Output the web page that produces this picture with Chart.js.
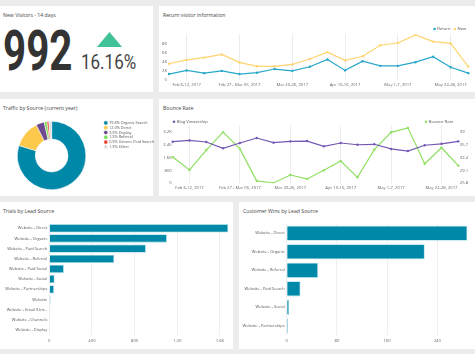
<!DOCTYPE html>
<html>
<head>
<meta charset="utf-8">
<script src="https://cdn.jsdelivr.net/npm/chart.js@4.4.0/dist/chart.umd.min.js"></script>
<style>
html, body { margin: 0; padding: 0; }
body { width: 475px; height: 354px; background: #ececec; position: relative; overflow: hidden; font-family: "Open Sans", sans-serif; color: #444; }
.panel { position: absolute; background: #fff; }
.title { position: absolute; font-size: 5.2px; line-height: 6px; color: #444; white-space: nowrap; }
.box { position: absolute; }
.kpi { position: absolute; font-family: Roboto, sans-serif; white-space: nowrap; transform-origin: 0 0; }
</style>
</head>
<body>
<div class="panel" style="left:0;top:6px;width:153px;height:86px"></div>
<div class="panel" style="left:159px;top:6px;width:316px;height:86px"></div>
<div class="panel" style="left:0;top:99px;width:153px;height:97px"></div>
<div class="panel" style="left:159px;top:99px;width:316px;height:97px"></div>
<div class="panel" style="left:0;top:202px;width:233px;height:147px"></div>
<div class="panel" style="left:239px;top:202px;width:236px;height:147px"></div>

<div class="title" style="left:3px;top:12px">New Visitors - 14 days</div>
<div class="title" style="left:163px;top:12px">Return visitor information</div>
<div class="title" style="left:3px;top:105px">Traffic by Source (current year)</div>
<div class="title" style="left:163px;top:105px">Bounce Rate</div>
<div class="title" style="left:3px;top:208px">Trials by Lead Source</div>
<div class="title" style="left:243px;top:208px">Customer Wins by Lead Source</div>

<div class="kpi" style="left:3px;top:22.7px;font-size:56px;line-height:56px;font-weight:700;color:#333;transform:scaleX(0.72)">992</div>
<div style="position:absolute;left:97px;top:32px;width:25px;height:15px;background:#40c197;clip-path:polygon(50% 0,100% 100%,0 100%)"></div>
<div class="kpi" style="left:81px;top:52.3px;font-size:21px;line-height:21px;color:#444;transform:scaleX(0.81)">16.16%</div>

<div class="box" style="left:160px;top:24px;width:315px;height:68px"><canvas id="returnChart"></canvas></div>
<div class="box" style="left:0;top:120px;width:164px;height:71px"><canvas id="trafficChart"></canvas></div>
<div class="box" style="left:160px;top:112px;width:315px;height:84px"><canvas id="bounceChart"></canvas></div>
<div class="box" style="left:0;top:218px;width:233px;height:131px"><canvas id="trialsChart"></canvas></div>
<div class="box" style="left:240px;top:218px;width:235px;height:131px"><canvas id="winsChart"></canvas></div>

<script>
const weeks = ["Jan 30 - Feb 05, 2017", "Feb 6-12, 2017", "Feb 13-19, 2017", "Feb 20-26, 2017",
    "Feb 27 - Mar 05, 2017", "Mar 06-12, 2017", "Mar 13-19, 2017", "Mar 20-26, 2017",
    "Mar 27 - Apr 02, 2017", "Apr 03-09, 2017", "Apr 10-16, 2017", "Apr 17-23, 2017",
    "Apr 24-30, 2017", "May 1-7, 2017", "May 8-14, 2017", "May 15-21, 2017",
    "May 22-28, 2017", "May 29 - Jun 04, 2017"];

const returnVisitors = [1300, 2100, 1500, 2000, 1300, 1600, 2400, 2000, 2900, 4500, 2100, 4100, 3100, 3100, 3900, 5100, 2800, 1500];
const newVisitors = [3550, 4400, 4900, 5600, 3850, 3000, 3000, 3400, 4600, 6100, 4300, 5200, 7600, 8100, 9850, 8400, 8000, 2950];
const visitorTicks = [0, 2000, 4000, 6000, 8000];

const blogViewership = [2580, 2660, 2560, 2170, 2500, 2810, 2520, 2600, 2620, 2290, 2500, 2390, 2420, 2130, 2000, 2360, 2450, 2600];
const bounceRate = [32.5, 29.2, 34.3, 38.9, 34.6, 26.4, 25.85, 27.9, 26.9, 29.1, 31.5, 27.3, 34.4, 38.85, 40.0, 30.8, 34.9, 30.3];
const viewershipTicks = [0, 800, 1600, 2400, 3200];
const bounceTicks = [25.8, 29.1, 32.4, 35.7, 39];

const trafficSources = ["Organic Search", "Direct", "Display", "Referral", "Generic Paid Search", "Other"];
const trafficShare = [79.8, 12.9, 3.9, 1.3, 0.9, 1.3];
const trafficColors = ["#0088a8", "#fcc94c", "#6d4a8f", "#7dde55", "#e8412c", "#dcdcdc"];

const trialSources = ["Website - Direct", "Website - Organic", "Website - Paid Search", "Website - Referral",
    "Website - Paid Social", "Website - Social", "Website - Partnerships", "Website",
    "Website - Email (Unt...", "Website - Channels", "Website - Display"];
const trials = [1678, 1103, 906, 609, 137, 50, 44, 12, 9, 3, 2];
const trialTicks = [0, 400, 800, 1200, 1600];

const winSources = ["Website - Direct", "Website - Organic", "Website - Referral", "Website - Paid Search",
    "Website - Social", "Website - Partnerships"];
const wins = [288, 220, 50, 22, 4, 2];
const winTicks = [0, 80, 160, 240];

Chart.defaults.font.family = '"Open Sans", sans-serif';
Chart.defaults.color = "#666";
Chart.defaults.animation = false;
Chart.defaults.responsive = true;
Chart.defaults.maintainAspectRatio = false;
Chart.defaults.plugins.tooltip.enabled = false;

const kFormat = (v) => v >= 1000 ? (v / 1000) + "K" : String(v);
const tickFont = {size: 4.2};
const setTicks = (list) => (scale) => { scale.ticks = list.map(v => ({value: v})); };
const everyThird = (ctx) => ctx.index % 3 === 1 ? "#ececec" : "transparent";

// small legend drawn above the plot: either both series at the right end,
// or the first series at the left and the second at the right
const seriesLegend = {
    id: "seriesLegend",
    afterDraw(chart, args, opts) {
        const {ctx, chartArea} = chart;
        const y = chartArea.top + opts.offsetY;
        ctx.save();
        ctx.font = '4.2px "Open Sans", sans-serif';
        ctx.textBaseline = "middle";
        const items = chart.data.datasets.map(ds => ({
            text: ds.label, color: ds.borderColor, w: 4 + ctx.measureText(ds.label).width,
        }));
        let xs;
        if (opts.split) {
            xs = [chartArea.left, chartArea.right - opts.inset - items[1].w];
        } else {
            const total = items.reduce((a, it) => a + it.w, 0) + opts.gap * (items.length - 1);
            let x = chartArea.right - opts.inset - total;
            xs = items.map(it => { const cur = x; x += it.w + opts.gap; return cur; });
        }
        items.forEach((it, i) => {
            ctx.fillStyle = it.color;
            ctx.beginPath();
            ctx.arc(xs[i] + 1.3, y, 1.3, 0, Math.PI * 2);
            ctx.fill();
            ctx.fillStyle = "#555";
            ctx.fillText(it.text, xs[i] + 4, y);
        });
        ctx.restore();
    },
};

// line: return visitors
new Chart(document.getElementById("returnChart"), {
    type: "line",
    data: {
        labels: weeks,
        datasets: [
            {label: "Return", data: returnVisitors, borderColor: "#27a7c9", backgroundColor: "#27a7c9",
             borderWidth: 1.2, pointRadius: 1.2, pointBorderWidth: 0},
            {label: "New", data: newVisitors, borderColor: "#fdd46e", backgroundColor: "#fdd46e",
             borderWidth: 1.2, pointRadius: 1.2, pointBorderWidth: 0},
        ],
    },
    plugins: [seriesLegend],
    options: {
        layout: {padding: {left: 0, right: 6.7, top: 10.3, bottom: 1}},
        plugins: {
            legend: {display: false},
            seriesLegend: {split: false, offsetY: -5.3, inset: 2, gap: 3},
        },
        scales: {
            x: {
                grid: {color: everyThird, drawTicks: false},
                border: {display: false},
                ticks: {autoSkip: false, maxRotation: 0, padding: 2, font: tickFont,
                        callback: (v, i) => i % 3 === 1 ? weeks[i] : ""},
                afterFit: (s) => { s.height = 11; },
            },
            y: {
                min: 0, max: 10000,
                afterBuildTicks: setTicks(visitorTicks),
                grid: {display: false, drawTicks: false},
                border: {display: false},
                ticks: {padding: 2, font: tickFont, callback: kFormat},
                afterFit: (s) => { s.width = 9; },
            },
        },
    },
});

// donut: traffic by source
new Chart(document.getElementById("trafficChart"), {
    type: "doughnut",
    data: {
        labels: trafficSources.map((s, i) => trafficShare[i] + "% " + s),
        datasets: [{data: trafficShare, backgroundColor: trafficColors, borderColor: "#fff", borderWidth: 0.5}],
    },
    options: {
        cutout: "48%",
        radius: "97%",
        layout: {padding: {right: 0}},
        plugins: {
            legend: {
                position: "right",
                align: "start",
                labels: {font: {size: 3.8}, color: "#555", usePointStyle: true, pointStyle: "circle",
                         boxWidth: 3, boxHeight: 3, padding: 1},
            },
        },
    },
});

// line: bounce rate
new Chart(document.getElementById("bounceChart"), {
    type: "line",
    data: {
        labels: weeks,
        datasets: [
            {label: "Blog Viewership", data: blogViewership, yAxisID: "y", borderColor: "#7458b3",
             backgroundColor: "#7458b3", borderWidth: 1.2, pointRadius: 1.2, pointBorderWidth: 0},
            {label: "Bounce Rate", data: bounceRate, yAxisID: "y1", borderColor: "#8fe061",
             backgroundColor: "#8fe061", borderWidth: 1.2, pointRadius: 1.2, pointBorderWidth: 0},
        ],
    },
    plugins: [seriesLegend],
    options: {
        layout: {padding: {left: 0, right: 6.7, top: 13.3, bottom: 1.8}},
        plugins: {
            legend: {display: false},
            seriesLegend: {split: true, offsetY: -3.6, inset: 5, gap: 3},
        },
        scales: {
            x: {
                grid: {color: everyThird, drawTicks: false},
                border: {display: false},
                ticks: {autoSkip: false, maxRotation: 0, padding: 2, font: tickFont,
                        callback: (v, i) => i % 3 === 1 ? weeks[i] : ""},
                afterFit: (s) => { s.height = 11; },
            },
            y: {
                position: "left",
                min: 0, max: 3600,
                afterBuildTicks: setTicks(viewershipTicks),
                grid: {display: false, drawTicks: false},
                border: {display: false},
                ticks: {padding: 1, font: tickFont, callback: kFormat},
                afterFit: (s) => { s.width = 12.7; },
            },
            y1: {
                position: "right",
                min: 25.8, max: 40.65,
                afterBuildTicks: setTicks(bounceTicks),
                grid: {display: false, drawTicks: false},
                border: {display: false},
                ticks: {padding: 1.5, font: tickFont, callback: (v) => String(v)},
                afterFit: (s) => { s.width = 10; },
            },
        },
    },
});

const barOptions = (maxValue, tickList, axisWidth, padding) => ({
    indexAxis: "y",
    layout: {padding: padding},
    plugins: {legend: {display: false}},
    scales: {
        x: {
            min: 0, max: maxValue,
            afterBuildTicks: setTicks(tickList),
            grid: {color: "#efefef", drawTicks: false},
            border: {display: false},
            ticks: {padding: 3, font: tickFont, callback: kFormat},
            afterFit: (s) => { s.height = 10; },
        },
        y: {
            grid: {display: false, drawTicks: false},
            border: {display: false},
            ticks: {padding: 2, font: {size: 4}, color: "#555", autoSkip: false},
            afterFit: (s) => { s.width = axisWidth; },
        },
    },
});

// bars: trials
new Chart(document.getElementById("trialsChart"), {
    type: "bar",
    data: {
        labels: trialSources,
        datasets: [{label: "Trials", data: trials, backgroundColor: "#0088a8", borderColor: "#a6dbe8",
                    borderWidth: 0.8, categoryPercentage: 1, barPercentage: 0.82}],
    },
    options: barOptions(1700, trialTicks, 49.3, {left: 0, right: 2.4, top: 5.2, bottom: 3.9}),
});

// bars: customer wins
new Chart(document.getElementById("winsChart"), {
    type: "bar",
    data: {
        labels: winSources,
        datasets: [{label: "Customer Wins", data: wins, backgroundColor: "#0088a8", borderColor: "#a6dbe8",
                    borderWidth: 0.8, categoryPercentage: 1, barPercentage: 0.82}],
    },
    options: barOptions(289, winTicks, 46.7, {left: 0, right: 7, top: 6, bottom: 3.9}),
});
</script>
</body>
</html>
